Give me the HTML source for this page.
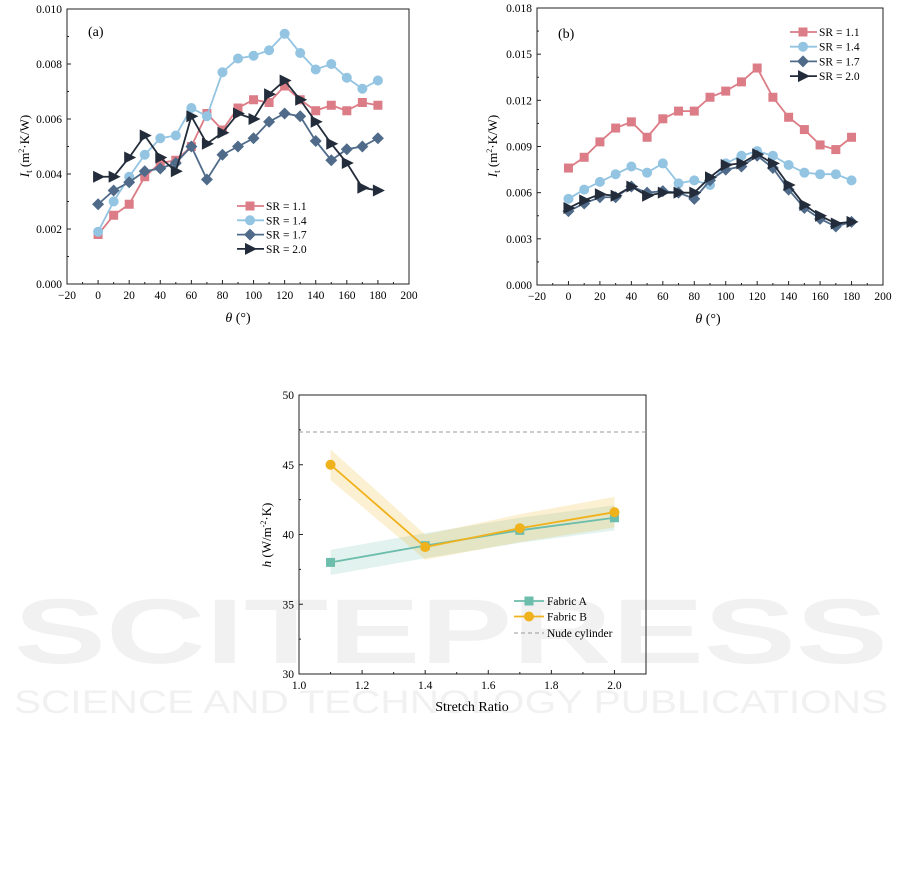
<!DOCTYPE html><html><head><meta charset="utf-8"><style>body{margin:0;background:#fff}svg{display:block;font-family:"Liberation Serif",serif}</style></head><body>
<svg id="s" width="901" height="886" viewBox="0 0 901 886" xmlns="http://www.w3.org/2000/svg"></svg>
<script>
const S=document.getElementById('s');let h='';
function add(x){h+=x;}
add(`<text x="14" y="663" font-family="Liberation Sans,sans-serif" font-weight="bold" font-size="92" fill="#f1f1f1" textLength="874" lengthAdjust="spacingAndGlyphs">SCITEPRESS</text>`);
add(`<text x="14" y="713" font-family="Liberation Sans,sans-serif" font-size="32" fill="#f1f1f1" textLength="874" lengthAdjust="spacingAndGlyphs">SCIENCE AND TECHNOLOGY PUBLICATIONS</text>`);
const C={p:'#db7c86',b:'#93c4e2',s:'#4f6b89',d:'#232c3a',t:'#6cbdac',g:'#f0b21c'};
function marker(t,x,y,c){
 if(t=='sq')return `<rect x="${x-4.5}" y="${y-4.5}" width="9" height="9" fill="${c}"/>`;
 if(t=='ci')return `<circle cx="${x}" cy="${y}" r="5" fill="${c}"/>`;
 if(t=='di')return `<polygon points="${x},${y-6} ${x+6},${y} ${x},${y+6} ${x-6},${y}" fill="${c}"/>`;
 if(t=='tr')return `<polygon points="${x-5},${y-6} ${x+7},${y} ${x-5},${y+6}" fill="${c}"/>`;
}
function chart(o){
 const {L,R,T,B,x0,x1,y0,y1}=o;
 const X=v=>L+(v-x0)/(x1-x0)*(R-L), Y=v=>B-(v-y0)/(y1-y0)*(B-T);
 add(`<rect x="${L}" y="${T}" width="${R-L}" height="${B-T}" fill="none" stroke="#222" stroke-width="1"/>`);
 o.xt.forEach((v,i)=>{const x=X(v);add(`<line x1="${x}" y1="${B}" x2="${x}" y2="${B-4}" stroke="#222"/><text x="${x}" y="${B+15}" font-size="11.5" text-anchor="middle">${o.xl[i]}</text>`);});
 o.xm.forEach(v=>{const x=X(v);add(`<line x1="${x}" y1="${B}" x2="${x}" y2="${B-2}" stroke="#222"/>`);});
 o.yt.forEach((v,i)=>{const y=Y(v);add(`<line x1="${L}" y1="${y}" x2="${L+4}" y2="${y}" stroke="#222"/><text x="${L-5}" y="${y+4}" font-size="11.5" text-anchor="end">${o.yl[i]}</text>`);});
 o.ym.forEach(v=>{const y=Y(v);add(`<line x1="${L}" y1="${y}" x2="${L+2}" y2="${y}" stroke="#222"/>`);});
 return [X,Y];
}
const th=[0,10,20,30,40,50,60,70,80,90,100,110,120,130,140,150,160,170,180];
function series(X,Y,xs,ys,c,m){
 add(`<polyline points="${xs.map((x,i)=>X(x)+','+Y(ys[i])).join(' ')}" fill="none" stroke="${c}" stroke-width="1.8"/>`);
 xs.forEach((x,i)=>add(marker(m,X(x),Y(ys[i]),c)));
}
const xt=[-20,0,20,40,60,80,100,120,140,160,180,200],xl=['\u221220','0','20','40','60','80','100','120','140','160','180','200'],xm=[-10,10,30,50,70,90,110,130,150,170,190];
let [X,Y]=chart({L:67,R:409,T:9,B:284,x0:-20,x1:200,y0:0,y1:0.010,xt,xl,xm,yt:[0,.002,.004,.006,.008,.010],yl:['0.000','0.002','0.004','0.006','0.008','0.010'],ym:[.001,.003,.005,.007,.009]});
const A=[
[[.0018,.0025,.0029,.0039,.0044,.0045,.0050,.0062,.0056,.0064,.0067,.0066,.0072,.0067,.0063,.0065,.0063,.0066,.0065],C.p,'sq'],
[[.0019,.0030,.0039,.0047,.0053,.0054,.0064,.0061,.0077,.0082,.0083,.0085,.0091,.0084,.0078,.0080,.0075,.0071,.0074],C.b,'ci'],
[[.0029,.0034,.0037,.0041,.0042,.0044,.0050,.0038,.0047,.0050,.0053,.0059,.0062,.0061,.0052,.0045,.0049,.0050,.0053],C.s,'di'],
[[.0039,.0039,.0046,.0054,.0046,.0041,.0061,.0051,.0055,.0062,.0060,.0069,.0074,.0067,.0059,.0051,.0044,.0035,.0034],C.d,'tr']];
A.forEach(a=>series(X,Y,th,a[0],a[1],a[2]));
add(`<text x="88" y="36" font-size="14">(a)</text>`);
const lab=['SR = 1.1','SR = 1.4','SR = 1.7','SR = 2.0'];
A.forEach((a,i)=>{const y=206+i*14.3;add(`<line x1="237" y1="${y}" x2="264" y2="${y}" stroke="${a[1]}" stroke-width="1.8"/>`+marker(a[2],250,y,a[1])+`<text x="266" y="${y+4}" font-size="11.5">${lab[i]}</text>`);});
add(`<text transform="translate(29,146) rotate(-90)" font-size="13" text-anchor="middle"><tspan font-style="italic">I</tspan><tspan font-size="9" dy="3">t</tspan><tspan dy="-3"> (m</tspan><tspan font-size="8" dy="-5">2</tspan><tspan dy="5">·K/W)</tspan></text>`);
add(`<text x="238" y="322" font-size="14" text-anchor="middle"><tspan font-style="italic">θ</tspan> (°)</text>`);
[X,Y]=chart({L:537,R:883,T:8,B:285,x0:-20,x1:200,y0:0,y1:0.018,xt,xl,xm,yt:[0,.003,.006,.009,.012,.015,.018],yl:['0.000','0.003','0.006','0.009','0.012','0.015','0.018'],ym:[.0015,.0045,.0075,.0105,.0135,.0165]});
const Bd=[
[[.0076,.0083,.0093,.0102,.0106,.0096,.0108,.0113,.0113,.0122,.0126,.0132,.0141,.0122,.0109,.0101,.0091,.0088,.0096],C.p,'sq'],
[[.0056,.0062,.0067,.0072,.0077,.0073,.0079,.0066,.0068,.0065,.0079,.0084,.0087,.0084,.0078,.0073,.0072,.0072,.0068],C.b,'ci'],
[[.0048,.0053,.0057,.0057,.0064,.0060,.0061,.0060,.0056,.0068,.0075,.0077,.0084,.0076,.0062,.0050,.0043,.0038,.0041],C.s,'di'],
[[.0050,.0055,.0059,.0058,.0064,.0058,.0060,.0060,.0060,.0070,.0078,.0079,.0085,.0079,.0065,.0052,.0045,.0040,.0041],C.d,'tr']];
Bd.forEach(a=>series(X,Y,th,a[0],a[1],a[2]));
add(`<text x="558" y="38" font-size="14">(b)</text>`);
Bd.forEach((a,i)=>{const y=32+i*14.7;add(`<line x1="790" y1="${y}" x2="817" y2="${y}" stroke="${a[1]}" stroke-width="1.8"/>`+marker(a[2],803,y,a[1])+`<text x="819" y="${y+4}" font-size="11.5">${lab[i]}</text>`);});
add(`<text transform="translate(497,146) rotate(-90)" font-size="13" text-anchor="middle"><tspan font-style="italic">I</tspan><tspan font-size="9" dy="3">t</tspan><tspan dy="-3"> (m</tspan><tspan font-size="8" dy="-5">2</tspan><tspan dy="5">·K/W)</tspan></text>`);
add(`<text x="708" y="323" font-size="14" text-anchor="middle"><tspan font-style="italic">θ</tspan> (°)</text>`);
[X,Y]=chart({L:299,R:646,T:395,B:674,x0:1.0,x1:2.1,y0:30,y1:50,xt:[1.0,1.2,1.4,1.6,1.8,2.0],xl:['1.0','1.2','1.4','1.6','1.8','2.0'],xm:[1.1,1.3,1.5,1.7,1.9],yt:[30,35,40,45,50],yl:['30','35','40','45','50'],ym:[32.5,37.5,42.5,47.5]});
const sx=[1.1,1.4,1.7,2.0],fa=[38.0,39.2,40.3,41.2],fb=[45.0,39.1,40.45,41.6];
function band(ys,d,c){const up=sx.map((x,i)=>X(x)+','+Y(ys[i]+d[i])),dn=sx.map((x,i)=>X(x)+','+Y(ys[i]-d[i])).reverse();add(`<polygon points="${up.concat(dn).join(' ')}" fill="${c}" opacity="0.2"/>`);}
band(fa,[0.9,0.9,0.9,0.9],C.t);band(fb,[1.1,0.9,1.0,1.1],C.g);
add(`<line x1="299" y1="${Y(47.35)}" x2="646" y2="${Y(47.35)}" stroke="#999" stroke-dasharray="4,3" stroke-width="1"/>`);
series(X,Y,sx,fa,C.t,'sq');series(X,Y,sx,fb,C.g,'ci');
[[C.t,'sq','Fabric A'],[C.g,'ci','Fabric B']].forEach((a,i)=>{const y=601+i*15.5;add(`<line x1="514" y1="${y}" x2="544" y2="${y}" stroke="${a[0]}" stroke-width="1.8"/>`+marker(a[1],529,y,a[0])+`<text x="547" y="${y+4}" font-size="11.5">${a[2]}</text>`);});
add(`<line x1="514" y1="633" x2="544" y2="633" stroke="#999" stroke-dasharray="4,3"/><text x="547" y="637" font-size="11.5">Nude cylinder</text>`);
add(`<text transform="translate(271,535) rotate(-90)" font-size="13" text-anchor="middle"><tspan font-style="italic">h</tspan> (W/m<tspan font-size="8" dy="-5">-2</tspan><tspan dy="5">·K)</tspan></text>`);
add(`<text x="472" y="711" font-size="14" text-anchor="middle">Stretch Ratio</text>`);
S.innerHTML=h;
</script></body></html>
